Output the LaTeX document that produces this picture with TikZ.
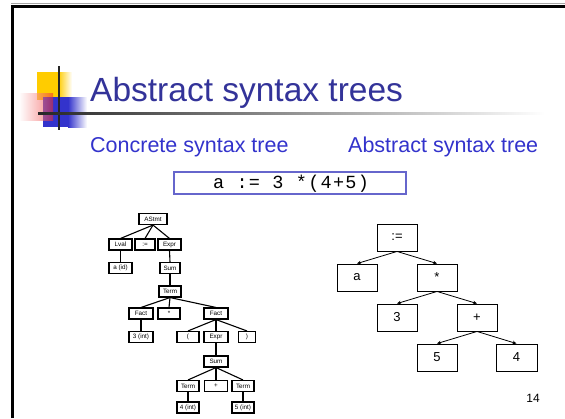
\documentclass[tikz,border=0pt]{standalone}
\usepackage{fontspec}
\setmainfont{Liberation Sans}
\setmonofont{Liberation Mono}
\usetikzlibrary{arrows.meta}
\definecolor{titleblue}{RGB}{51,51,153}
\definecolor{subblue}{RGB}{51,51,204}
\definecolor{codeframe}{RGB}{102,102,204}
\definecolor{logoyellow}{RGB}{255,204,0}
\definecolor{logored}{RGB}{240,40,40}
\definecolor{logoblue}{RGB}{51,51,204}
\tikzset{
  cbox/.style={draw, line width=1.1pt, minimum height=11pt, inner sep=0pt,
    font=\fontsize{6.3}{7}\selectfont},
  cedge/.style={line width=1.1pt},
  abox/.style={draw, line width=0.9pt, minimum width=40pt, minimum height=27pt,
    inner sep=0pt, font=\fontsize{13}{15}\selectfont},
  aedge/.style={line width=0.8pt, -{Stealth[length=4pt,width=3.5pt]}},
}
\begin{document}
\begin{tikzpicture}[x=1pt,y=-1pt]
\useasboundingbox (0,0) rectangle (565,418);
\fill[white] (0,0) rectangle (565,418);

% slide frame
\draw[black!35, line width=1pt] (11,3.5) -- (565,3.5);
\draw[line width=3pt] (12.5,418) -- (12.5,6) -- (565,6);

% logo squares
\fill[logoyellow] (37,72) rectangle (58,100);
\shade[left color=logoyellow, right color=white] (58,72) rectangle (72,100);
\fill[logoblue] (43,97) rectangle (68,127);
\shade[left color=logoblue, right color=white] (68,97) rectangle (87,127);
\shade[left color=white, right color=logored, fill opacity=0.55] (19,93) rectangle (53,120);
\draw[black!85, line width=2pt] (59,66) -- (59,130);
\shade[left color=black!85, right color=white] (38,112.5) rectangle (545,114.5);

% headings
\node[anchor=base west, inner sep=0pt, text=titleblue,
  font=\fontsize{33.5}{36}\selectfont] (title) at (90,101.5) {Abstract syntax trees};
\node[anchor=base west, inner sep=0pt, text=subblue,
  font=\fontsize{21.5}{24}\selectfont] (conc) at (90,152) {Concrete syntax tree};
\node[anchor=base west, inner sep=0pt, text=subblue,
  font=\fontsize{21.5}{24}\selectfont] (abst) at (348,152) {Abstract syntax tree};

% source statement
\draw[codeframe, line width=1.2pt] (174,172) rectangle (406,194);
\node[anchor=base, inner sep=0pt,
  font=\ttfamily\fontsize{18.5}{22}\selectfont\addfontfeature{LetterSpace=7}]
  (code) at (291,188.5) {a := 3 *(4+5)};

% concrete syntax tree
\node[cbox, minimum width=28pt] (astmt) at (153,219) {AStmt};
\node[cbox, minimum width=23pt] (lval) at (120.5,244.5) {Lval};
\node[cbox, minimum width=20pt] (assign) at (145,244.5) {:=};
\node[cbox, minimum width=23pt] (expr1) at (169.5,244.5) {Expr};
\node[cbox, minimum width=23pt] (aid) at (120.5,268) {a (id)};
\node[cbox, minimum width=20pt] (sum1) at (170,268) {Sum};
\node[cbox, minimum width=22pt] (term1) at (170,291.5) {Term};
\node[cbox, minimum width=24pt] (fact1) at (141,313.5) {Fact};
\node[cbox, minimum width=22pt] (star) at (169,313.5) {*};
\node[cbox, minimum width=24pt] (fact2) at (216,313.5) {Fact};
\node[cbox, minimum width=24pt] (int3) at (141,337) {3 (int)};
\node[cbox, minimum width=22pt] (lpar) at (188,337) {(};
\node[cbox, minimum width=24pt] (expr2) at (216,337) {Expr};
\node[cbox, minimum width=17pt] (rpar) at (247,337) {)};
\node[cbox, minimum width=24pt] (sum2) at (216,361.5) {Sum};
\node[cbox, minimum width=22pt] (term2) at (188,386) {Term};
\node[cbox, minimum width=23pt] (plus1) at (216,386) {+};
\node[cbox, minimum width=22pt] (term3) at (243,386) {Term};
\node[cbox, minimum width=22pt] (int4) at (188,407.5) {4 (int)};
\node[cbox, minimum width=22pt] (int5) at (243,407.5) {5 (int)};

\foreach \p/\c in {astmt/lval, astmt/assign, astmt/expr1, lval/aid, expr1/sum1,
    sum1/term1, term1/fact1, term1/star, term1/fact2, fact1/int3,
    fact2/lpar, fact2/expr2, fact2/rpar, expr2/sum2,
    sum2/term2, sum2/plus1, sum2/term3, term2/int4, term3/int5}
  \draw[cedge] (\p.south) -- (\c.north);

% abstract syntax tree
\node[abox] (asg) at (397,237.5) {:=};
\node[abox] (va) at (357,277.5) {a};
\node[abox] (mul) at (437,277.5) {*};
\node[abox] (three) at (397,317.5) {3};
\node[abox] (add) at (477,317.5) {+};
\node[abox] (five) at (437,357.5) {5};
\node[abox, minimum width=41pt] (four) at (516.5,357.5) {4};

\foreach \p/\c in {asg/va, asg/mul, mul/three, mul/add, add/five, add/four}
  \draw[aedge] (\p.south) -- (\c.north);

% slide number
\node[anchor=base east, inner sep=0pt, font=\fontsize{12}{14}\selectfont]
  (pagenum) at (540,402) {14};
\end{tikzpicture}
\end{document}
